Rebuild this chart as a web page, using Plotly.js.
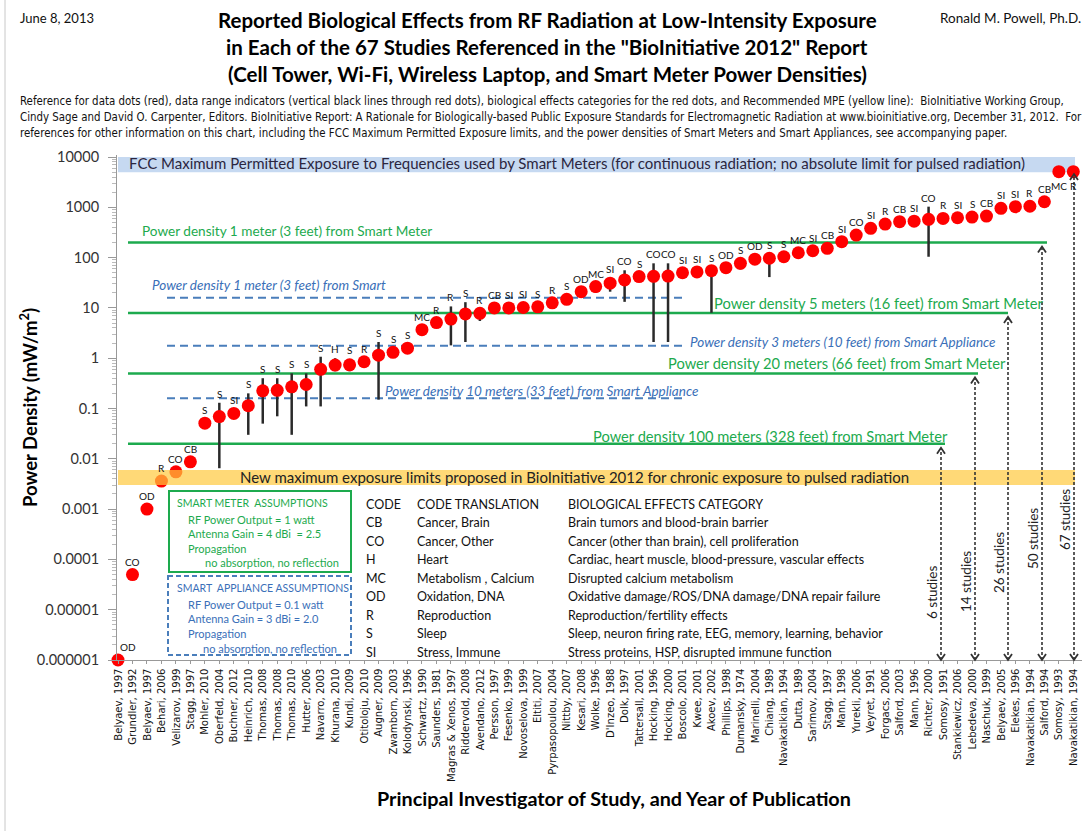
<!DOCTYPE html>
<html><head><meta charset="utf-8">
<script src="https://cdn.plot.ly/plotly-3.0.1.min.js"></script>
<style>html,body{margin:0;padding:0;background:#fff;}#chart{width:1089px;height:831px;}</style>
</head><body><div id="chart"></div>
<script>
// ---------------- DATA ----------------
const studies = [
 'Belyaev, 1997','Grundler, 1992','Belyaev, 1997','Behari, 2006','Velizarov, 1999','Stagg, 1997','Mohler, 2010','Oberfeld, 2004','Buchner, 2012','Heinrich, 2010',
 'Thomas, 2008','Thomas, 2008','Thomas, 2010','Hutter, 2006','Navarro, 2003','Khurana, 2010','Kundi, 2009','Otitoloju, 2010','Augner, 2009','Zwamborn, 2003',
 'Kolodynski, 1996','Schwartz, 1990','Saunders, 1981','Magras & Xenos, 1997','Riddervold, 2008','Avendano, 2012','Persson, 1997','Fesenko, 1999','Novoselova, 1999','Eltiti, 2007',
 'Pyrpasopoulou, 2004','Nittby, 2007','Kesari, 2008','Wolke, 1996',"D'Inzeo, 1988",'Dolk, 1997','Tattersall, 2001','Hocking, 1996','Hocking, 2000','Boscolo, 2001',
 'Kwee, 2001','Akoev, 2002','Phillips, 1998','Dumansky, 1974','Marinelli, 2004','Chiang, 1989','Navakatikian, 1994','Dutta, 1989','Sarimov, 2004','Stagg, 1997',
 'Mann, 1998','Yurekli, 2006','Veyret, 1991','Forgacs, 2006','Salford, 2003','Mann, 1996','Richter, 2000','Somosy, 1991','Stankiewicz, 2006','Lebedeva, 2000',
 'Naschuk, 1999','Belyaev, 2005','Elekes, 1996','Navakatikian, 1994','Salford, 1994','Somosy, 1993','Navakatikian, 1994'];
const powerDensity = [
 1e-6, 5e-5, 0.001, 0.0036, 0.0055, 0.0087, 0.051, 0.069, 0.08, 0.114,
 0.225, 0.23, 0.27, 0.30, 0.60, 0.73, 0.74, 0.85, 1.15, 1.31,
 1.58, 3.7, 5.1, 6.0, 7.6, 7.8, 10, 10, 10.2, 10.5,
 12.6, 14.8, 21, 26.5, 31, 36, 42, 42.5, 43, 50,
 52, 55, 63, 77, 93, 97, 104, 125, 137, 153,
 207, 280, 383, 464, 517, 530, 577, 600, 620, 640,
 670, 955, 1030, 1050, 1290, 5100, 5100];
const effectCode = [
 'OD','CO','OD','R','CO','CB','S','S','SI','S',
 'S','S','S','S','S','H','S','R','S','S',
 'S','MC','R','R','S','R','CB','SI','SI','S',
 'R','S','OD','MC','SI','CO','S','CO','CO','SI',
 'SI','S','OD','S','OD','S','S','MC','SI','CB',
 'SI','CO','SI','R','CB','SI','CO','R','SI','S',
 'CB','SI','SI','R','CB','MC','R'];
const rangeLow = [
 null,null,null,null,null,null,null,0.0065,null,0.03,
 0.05,0.07,0.03,0.11,0.11,0.55,0.55,null,0.15,null,
 null,null,null,1.8,2.1,5.5,null,null,null,null,
 null,null,16,20,21,13.2,null,2.1,2.1,null,
 null,8,null,58,null,41,null,null,null,null,
 null,null,null,null,null,null,104,null,null,null,
 null,null,null,null,null,null,null];
const rangeHigh = [
 null,null,null,null,null,null,null,0.13,null,0.2,
 0.4,0.4,0.5,0.5,1.07,1.0,0.95,null,2.1,null,
 null,null,null,10.7,13,null,null,null,null,null,
 null,null,null,null,39,56,null,77,77,null,
 null,66,null,null,null,null,null,null,null,null,
 null,null,null,null,null,null,1030,null,null,null,
 null,null,null,null,null,null,null];
const yTickValues = [1e-6,1e-5,1e-4,1e-3,1e-2,1e-1,1,10,100,1000,10000];
const yTickLabels = ['0.000001','0.00001','0.0001','0.001','0.01','0.1','1','10','100','1000','10000'];
const fccLimitRange = [5000, 10000];
const bioInitiativeLimitRange = [0.003, 0.006];
const smartMeterPowerW = 1, smartMeterGain = 2.5;
const smartMeterDistancesM = [1, 5, 20, 100];
const smartMeterDistancesFt = [3, 16, 66, 328];
const appliancePowerW = 0.1, applianceGain = 2.0;
const applianceDistancesM = [1, 3, 10];
const applianceDistancesFt = [3, 10, 33];
const codeRows = [
 ['CODE','CODE TRANSLATION','BIOLOGICAL EFFECTS CATEGORY'],
 ['CB','Cancer, Brain','Brain tumors and blood-brain barrier'],
 ['CO','Cancer, Other','Cancer (other than brain), cell proliferation'],
 ['H','Heart','Cardiac, heart muscle, blood-pressure, vascular effects'],
 ['MC','Metabolism , Calcium','Disrupted calcium metabolism'],
 ['OD','Oxidation, DNA','Oxidative damage/ROS/DNA damage/DNA repair failure'],
 ['R','Reproduction','Reproduction/fertility effects'],
 ['S','Sleep','Sleep, neuron firing rate, EEG, memory, learning, behavior'],
 ['SI','Stress, Immune','Stress proteins, HSP, disrupted immune function']];

// ---------------- GEOMETRY / STYLE ----------------
const W = 1089, H = 831, L = 117, R = 7, T = 155, B = 171;
const PW = W - L - R, PH = H - T - B;
const XMIN = -0.07, XMAX = 66.6, YMIN = -6, YMAX = 4.04;
const NARROW = '"Liberation Sans Narrow", "DejaVu Sans Condensed", Arial, sans-serif';
const BODY = 'Lato, "Open Sans", sans-serif';
const GREEN = '#1DAA4E', BLUE = '#4A7EBB', BLUE_TXT = '#3A6FB8';
const px = x => (x - L) / PW;
const py = y => (T + PH - y) / PH;
const yv = v => (Math.log10(v) - YMIN) / (YMAX - YMIN);

const density = (P, G, r) => 1000 * P * G / (4 * Math.PI * r * r); // mW/m^2
const meterDens = smartMeterDistancesM.map(r => density(smartMeterPowerW, smartMeterGain, r));
const applDens = applianceDistancesM.map(r => density(appliancePowerW, applianceGain, r));
const idx = studies.map((_, i) => i);

// ---------------- TRACES ----------------
const dots = {
  x: idx, y: powerDensity, type: 'scatter', mode: 'markers', cliponaxis: false,
  text: studies, hovertemplate: '%{text}<br>%{y} mW/m²<extra></extra>',
  marker: {color: '#FF0000', size: 13},
  error_y: {type: 'data', symmetric: false,
    array: powerDensity.map((v, i) => rangeHigh[i] != null ? rangeHigh[i] - v : 0),
    arrayminus: powerDensity.map((v, i) => rangeLow[i] != null ? v - rangeLow[i] : 0),
    color: '#2a2a2a', thickness: 2.5, width: 0}
};

// ---------------- SHAPES ----------------
const shapes = [];
const ann = [];
function txt(text, x, y, o = {}) {
  ann.push(Object.assign({xref: 'paper', yref: 'paper', x: px(x), y: py(y), text, showarrow: false,
    xanchor: 'left', yanchor: 'middle', font: {family: BODY, size: 12, color: '#111'}}, o));
}
// FCC band
shapes.push({type: 'rect', layer: 'below', xref: 'paper', yref: 'paper', x0: px(118), x1: px(1075),
  y0: yv(fccLimitRange[0]), y1: yv(fccLimitRange[1]), fillcolor: '#C6D9F1', line: {width: 0}});
// Smart meter lines
const meterLineEnd = [1047, 1008, 978, 945];
meterDens.forEach((d, i) => shapes.push({type: 'line', layer: 'below', xref: 'paper', yref: 'paper',
  x0: px(128), x1: px(meterLineEnd[i]), y0: yv(d), y1: yv(d), line: {color: GREEN, width: 2.5}}));
// Appliance lines
applDens.forEach(d => shapes.push({type: 'line', layer: 'below', xref: 'paper', yref: 'paper',
  x0: px(167), x1: px(682), y0: yv(d), y1: yv(d), line: {color: BLUE, width: 2, dash: '8px,5px'}}));
// BioInitiative band (semi-transparent, above the dots)
shapes.push({type: 'rect', layer: 'above', xref: 'paper', yref: 'paper', x0: px(118), x1: px(1075),
  y0: yv(bioInitiativeLimitRange[0]), y1: yv(bioInitiativeLimitRange[1]),
  fillcolor: 'rgba(255,201,61,0.7)', line: {width: 0}});
// Arrows showing study counts
const arrowX = [941, 975, 1008, 1042, 1074];
const arrowTargets = [...meterDens.slice().reverse(), fccLimitRange[0] * 1.1];
const arrowLabelY = [593, 582, 563, 539, 520];
const chevron = (x, yTip, dir) => {
  const a = px(x - 4), b = px(x), c = px(x + 4);
  const t = yTip, s = yTip + dir * 6 / PH;
  return `M${a},${s} L${b},${t} L${c},${s}`;
};
arrowTargets.forEach((d, i) => {
  const count = powerDensity.filter(v => v <= (i === 4 ? fccLimitRange[1] : d)).length;
  const topY = yv(d) - 4 / PH;
  shapes.push({type: 'line', layer: 'above', xref: 'paper', yref: 'paper', x0: px(arrowX[i]), x1: px(arrowX[i]),
    y0: 0, y1: topY, line: {color: '#333', width: 1.6, dash: '3px,2px'}});
  shapes.push({type: 'path', layer: 'above', xref: 'paper', yref: 'paper', path: chevron(arrowX[i], topY, -1),
    line: {color: '#333', width: 1.8}});
  shapes.push({type: 'path', layer: 'above', xref: 'paper', yref: 'paper', path: chevron(arrowX[i], 0, 1),
    line: {color: '#333', width: 1.8}});
  txt(count + ' studies', arrowX[i] - 9, arrowLabelY[i], {textangle: -90, xanchor: 'center', font: {family: BODY, size: 13.5, color: '#222'}});
});
// Assumption boxes
shapes.push({type: 'rect', xref: 'paper', yref: 'paper', x0: px(169), x1: px(351), y0: py(491), y1: py(572),
  line: {color: GREEN, width: 2}, fillcolor: 'rgba(0,0,0,0)'});
shapes.push({type: 'rect', xref: 'paper', yref: 'paper', x0: px(168), x1: px(351), y0: py(576), y1: py(655),
  line: {color: BLUE, width: 2, dash: '5px,3px'}, fillcolor: 'rgba(0,0,0,0)'});
// Page frame
shapes.push({type: 'line', xref: 'paper', yref: 'paper', x0: px(5), x1: px(5), y0: py(0), y1: py(831), line: {color: '#c8c8c8', width: 1}});

// ---------------- TEXT ----------------
// Effect labels above dots
powerDensity.forEach((v, i) => {
  const below = v > fccLimitRange[0] * 0.8;
  const top = rangeHigh[i] != null ? rangeHigh[i] : v;
  ann.push({xref: 'x', yref: 'paper', x: i, y: below ? yv(v) : yv(top), text: effectCode[i], showarrow: false,
    xanchor: 'center', yanchor: below ? 'top' : 'bottom', yshift: below ? -6 : (rangeHigh[i] != null ? 1 : 5),
    xshift: i === 0 ? 10 : 0,
    font: {family: BODY, size: 10, color: '#111'}});
});
// Titles
const titleLines = ['Reported Biological Effects from RF Radiation at Low-Intensity Exposure',
  'in Each of the 67 Studies Referenced in the "BioInitiative 2012" Report',
  '(Cell Tower, Wi-Fi, Wireless Laptop, and Smart Meter Power Densities)'];
titleLines.forEach((t, i) => txt('<b>' + t + '</b>', 547, 20 + 27 * i, {xanchor: 'center', font: {family: BODY, size: 20.5, color: '#000'}}));
txt('June 8, 2013', 18, 18, {font: {family: BODY, size: 13, color: '#111'}});
txt('Ronald M. Powell, Ph.D.', 1083, 18, {xanchor: 'right', font: {family: BODY, size: 13.5, color: '#111'}});
const refLines = [
 'Reference for data dots (red), data range indicators (vertical black lines through red dots), biological effects categories for the red dots, and Recommended MPE (yellow line):  BioInitiative Working Group,',
 'Cindy Sage and David O. Carpenter, Editors. BioInitiative Report: A Rationale for Biologically-based Public Exposure Standards for Electromagnetic Radiation at www.bioinitiative.org, December 31, 2012.  For',
 'references for other information on this chart, including the FCC Maximum Permitted Exposure limits, and the power densities of Smart Meters and Smart Appliances, see accompanying paper.'];
refLines.forEach((t, i) => txt(t, 18, 101 + 16 * i, {font: {family: NARROW, size: 11.4, color: '#111'}}));
// Band texts
txt('FCC Maximum Permitted Exposure to Frequencies used by Smart Meters (for continuous radiation; no absolute limit for pulsed radiation)', 127, 163, {font: {family: BODY, size: 15, color: '#2b2640'}});
txt('New maximum exposure limits proposed in BioInitiative 2012 for chronic exposure to pulsed radiation', 574, 477, {xanchor: 'center', font: {family: BODY, size: 15, color: '#222'}});
// Line labels
const meterLabelPos = [[140, 231, 'left', 13.6], [1045, 303, 'right', 14.7], [1008, 363, 'right', 14.7], [950, 436, 'right', 14.7]];
meterDens.forEach((d, i) => {
  const p = meterLabelPos[i];
  txt('Power density ' + smartMeterDistancesM[i] + (smartMeterDistancesM[i] === 1 ? ' meter' : ' meters') +
    ' (' + smartMeterDistancesFt[i] + ' feet) from Smart Meter', p[0], p[1], {xanchor: p[2], font: {family: BODY, size: p[3], color: GREEN}});
});
const applLabelPos = [[150, 285, 'left', ' from Smart'], [688, 342, 'left', ' from Smart Appliance'], [700, 391, 'right', ' from Smart Appliance']];
applDens.forEach((d, i) => {
  const p = applLabelPos[i];
  txt('<i>Power density ' + applianceDistancesM[i] + (applianceDistancesM[i] === 1 ? ' meter' : ' meters') +
    ' (' + applianceDistancesFt[i] + ' feet)' + p[3] + '</i>', p[0], p[1], {xanchor: p[2], font: {family: BODY, size: 13.5, color: BLUE_TXT}});
});
// Assumption texts
const gf = {family: BODY, size: 11, color: GREEN}, bf = {family: BODY, size: 11, color: BLUE_TXT};
const gh = {family: BODY, size: 10.5, color: GREEN}, bh = {family: BODY, size: 10.5, color: BLUE_TXT};
txt('SMART METER  ASSUMPTIONS', 175, 503, {font: gh});
txt('RF Power Output = ' + smartMeterPowerW + ' watt', 186, 519, {font: gf});
txt('Antenna Gain = 4 dBi  = ' + smartMeterGain.toFixed(1), 186, 533, {font: gf});
txt('Propagation', 186, 548, {font: gf});
txt('no absorption, no reflection', 203, 562, {font: gf});
txt('SMART  APPLIANCE ASSUMPTIONS', 175, 588, {font: bh});
txt('RF Power Output = ' + appliancePowerW + ' watt', 186, 604, {font: bf});
txt('Antenna Gain = 3 dBi = ' + applianceGain.toFixed(1), 186, 618, {font: bf});
txt('Propagation', 186, 633, {font: bf});
txt('no absorption, no reflection', 201, 648, {font: bf});
// Code table
codeRows.forEach((r, i) => {
  const y = 504 + 18.5 * i;
  const f = {family: BODY, size: 12.5, color: '#111'};
  txt(r[0], 364, y, {font: f}); txt(r[1], 415, y, {font: f}); txt(r[2], 566, y, {font: f});
});
// Axis titles
txt('<b>Power Density (mW/m<sup>2</sup>)</b>', 28, 408, {xanchor: 'center', textangle: -90, font: {family: BODY, size: 18.5, color: '#000'}});
txt('<b>Principal Investigator of Study, and Year of Publication</b>', 614, 798, {xanchor: 'center', font: {family: BODY, size: 19.8, color: '#000'}});

// ---------------- LAYOUT ----------------
const layout = {
  width: W, height: H, margin: {l: L, r: R, t: T, b: B}, paper_bgcolor: '#fff', plot_bgcolor: '#fff',
  showlegend: false, shapes, annotations: ann,
  xaxis: {range: [XMIN, XMAX], tickvals: idx, ticktext: studies, tickangle: -90, showgrid: false, zeroline: false,
    showline: true, linecolor: '#999', linewidth: 1, ticks: 'outside', ticklen: 3, tickcolor: '#999',
    tickfont: {family: NARROW, size: 11.2, color: '#111'}, fixedrange: true},
  yaxis: {type: 'log', range: [YMIN, YMAX], tickvals: yTickValues, ticktext: yTickLabels, showgrid: false, zeroline: false,
    showline: true, linecolor: '#999', linewidth: 1, ticks: 'outside', ticklen: 8, tickcolor: '#999',
    tickfont: {family: BODY, size: 14.5, color: '#333'}, ticklabelstandoff: 6,
    minor: {ticks: 'outside', ticklen: 4, tickcolor: '#bbb', dtick: 'D1', showgrid: false}, fixedrange: true}
};
Plotly.newPlot('chart', [dots], layout, {displayModeBar: false, staticPlot: true});
</script></body></html>
